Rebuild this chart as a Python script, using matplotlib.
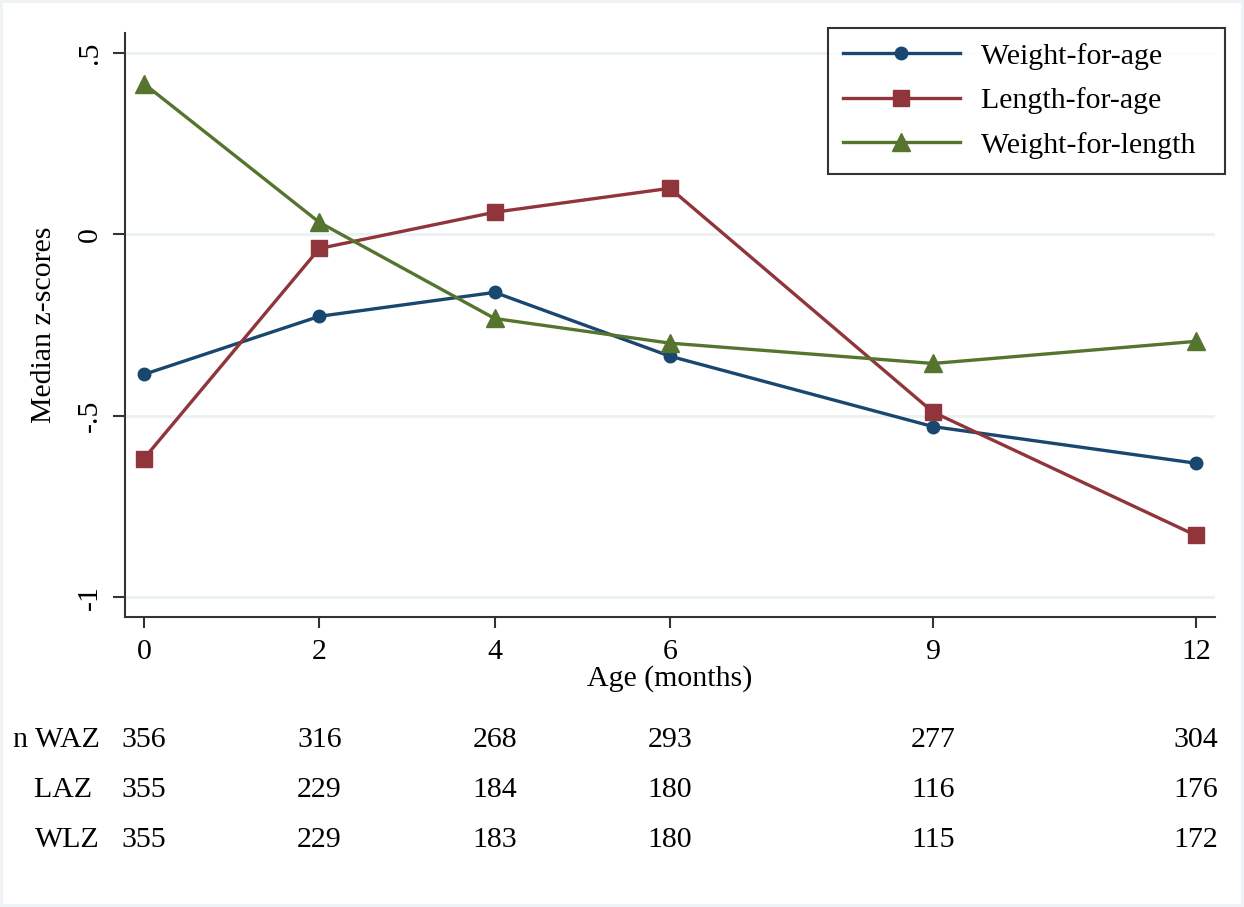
import matplotlib.pyplot as plt
from matplotlib.transforms import blended_transform_factory

plt.rcParams['font.family'] = ['Liberation Serif', 'DejaVu Serif']

ages = [0, 2, 4, 6, 9, 12]
waz = [-0.386, -0.226, -0.160, -0.336, -0.530, -0.631]
laz = [-0.618, -0.039, 0.061, 0.127, -0.490, -0.830]
wlz = [0.415, 0.033, -0.232, -0.300, -0.356, -0.295]

n_labels = ['n WAZ', 'LAZ ', 'WLZ']
n_waz = [356, 316, 268, 293, 277, 304]
n_laz = [355, 229, 184, 180, 116, 176]
n_wlz = [355, 229, 183, 180, 115, 172]

blue = '#1a476f'
red = '#90353b'
green = '#55752f'
fs = 21.5

fig = plt.figure(figsize=(12.44, 9.07), dpi=100)
fig.patch.set_edgecolor('#eef4f5')
fig.patch.set_linewidth(4)
ax = fig.add_axes([0.1005, 0.3197, 0.8762, 0.6439])

ax.plot(ages, waz, color=blue, lw=2.4, marker='o', ms=9, label='Weight-for-age')
ax.plot(ages, laz, color=red, lw=2.4, marker='s', ms=11.5, label='Length-for-age')
ax.plot(ages, wlz, color=green, lw=2.4, marker='^', ms=13, label='Weight-for-length')

ax.set_xlim(-0.217, 12.217)
ax.set_ylim(-1.055, 0.555)
ax.set_xticks(ages)
ax.set_yticks([-1, -0.5, 0, 0.5])
ax.set_yticklabels(['-1', '-.5', '0', '.5'], rotation=90, va='center')
ax.tick_params(axis='both', labelsize=fs, width=1.5, color='#333333')
ax.tick_params(axis='y', length=9, pad=7)
ax.tick_params(axis='x', length=8, pad=8)
ax.grid(axis='y', color='#eaf2f3', lw=2)
ax.set_axisbelow(True)
for s in ['top', 'right']:
    ax.spines[s].set_visible(False)
for s in ['left', 'bottom']:
    ax.spines[s].set_linewidth(1.5)
    ax.spines[s].set_color('#333333')

ax.set_xlabel('Age (months)', fontsize=fs, labelpad=0)
ax.set_ylabel('Median z-scores', fontsize=fs, labelpad=14)

# stata style legend box: a bit of extra room to the right of the labels
handles, labels = ax.get_legend_handles_labels()
leg = ax.legend(handles, [l + '  ' for l in labels],
                loc='upper right', bbox_to_anchor=(1.009, 1.009), borderaxespad=0,
                fontsize=fs, frameon=True, fancybox=False, edgecolor='black',
                handlelength=3.9, borderpad=0.5, labelspacing=0.59,
                handletextpad=0.7)
leg.get_frame().set_linewidth(1.5)

row_y = [0.184, 0.129, 0.074]
trans = blended_transform_factory(ax.transData, fig.transFigure)
for lab, counts, yy in zip(n_labels, [n_waz, n_laz, n_wlz], row_y):
    fig.text(0.0804, yy, lab, fontsize=fs, ha='right', va='center')
    for a, c in zip(ages, counts):
        ax.text(a, yy, str(c), fontsize=fs, ha='center', va='center',
                transform=trans, clip_on=False)

fig.savefig('out.png', dpi=100)
